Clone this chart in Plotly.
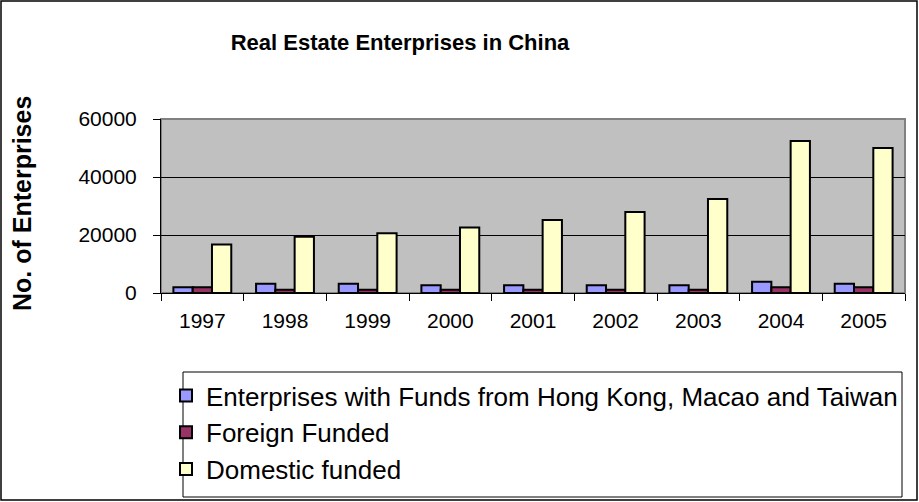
import plotly.graph_objects as go

years = ["1997", "1998", "1999", "2000", "2001", "2002", "2003", "2004", "2005"]
hk_macao_taiwan = [1950, 3200, 3200, 2650, 2650, 2650, 2650, 3900, 3200]
foreign_funded = [1950, 1150, 1150, 1150, 1150, 1150, 1150, 1950, 1950]
domestic_funded = [16700, 19400, 20600, 22600, 25200, 27900, 32400, 52400, 50000]

series_names = [
    "Enterprises with Funds from Hong Kong, Macao and Taiwan",
    "Foreign Funded",
    "Domestic funded",
]
series_colors = ["#9999FF", "#993366", "#FFFFCC"]
y_title = "No. of Enterprises"
chart_title = "Real Estate Enterprises in China"

W, H = 919, 502
L, R, T, B = 161, 905, 119, 293
FONT = "Liberation Sans, Arial, sans-serif"

fig = go.Figure()
for name, vals, col in zip(series_names, [hk_macao_taiwan, foreign_funded, domestic_funded], series_colors):
    fig.add_trace(go.Bar(
        x=years, y=vals, name=name, legendgroup=name,
        marker=dict(color=col, line=dict(color="black", width=2)),
    ))

def px_x(p):
    return (p - L) / (R - L)

def px_y(p):
    return (B - p) / (B - T)

shapes = [
    dict(type="rect", xref="paper", yref="paper",
         x0=px_x(1), x1=px_x(917), y0=px_y(500), y1=px_y(1),
         line=dict(color="black", width=1.5), fillcolor="rgba(0,0,0,0)", layer="below"),
    dict(type="rect", xref="paper", yref="paper",
         x0=0, x1=1, y0=0, y1=1,
         line=dict(color="#808080", width=2), fillcolor="rgba(0,0,0,0)", layer="below"),
    dict(type="rect", xref="paper", yref="paper",
         x0=px_x(183), x1=px_x(902), y0=px_y(497), y1=px_y(372),
         line=dict(color="black", width=1), fillcolor="rgba(0,0,0,0)", layer="below"),
]

fig.update_layout(
    width=W, height=H,
    margin=dict(l=L, r=W - R, t=T, b=H - B, pad=0, autoexpand=False),
    paper_bgcolor="white", plot_bgcolor="#C0C0C0",
    font=dict(family=FONT, size=21, color="black"),
    title=dict(text="<b>" + chart_title + "</b>", font=dict(size=22, family=FONT),
               x=400 / W, xanchor="center", y=1 - 42 / H, yanchor="middle", xref="container", yref="container"),
    barmode="group", bargap=0.3, bargroupgap=0,
    showlegend=True,
    legend=dict(x=166 / W, y=1 - 372 / H, xref="container", yref="container",
                xanchor="left", yanchor="top", bgcolor="rgba(0,0,0,0)", borderwidth=0,
                font=dict(size=26, family=FONT), tracegroupgap=0, itemwidth=30),
    shapes=shapes,
    annotations=[dict(text="<b>" + y_title + "</b>", xref="paper", yref="paper",
                      x=px_x(22), y=px_y(204), xanchor="center", yanchor="middle",
                      textangle=-90, showarrow=False, font=dict(size=25, family=FONT))],
)
fig.update_xaxes(type="category", tickson="boundaries", ticks="outside", ticklen=7,
                 tickcolor="black", showline=True, linecolor="black", linewidth=1,
                 showgrid=False, tickfont=dict(size=21, family=FONT), ticklabelstandoff=9)
fig.update_yaxes(range=[0, 60000], dtick=20000, tickformat="d", ticks="outside", ticklen=7, tickcolor="black",
                 showline=True, linecolor="black", linewidth=1,
                 showgrid=True, gridcolor="black", gridwidth=1, zeroline=False,
                 tickfont=dict(size=21, family=FONT), ticklabelstandoff=12)

fig.write_html("out.html", config={"displayModeBar": False},
               post_script="document.body.style.margin='0';document.body.style.overflow='hidden';")
